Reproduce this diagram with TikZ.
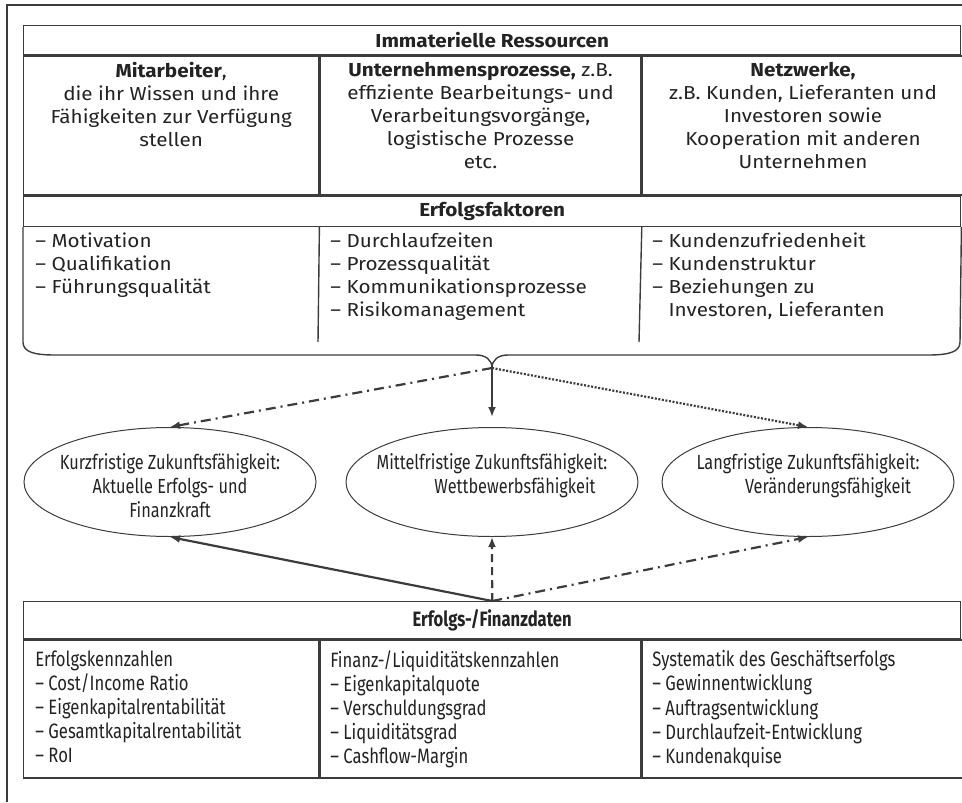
\documentclass[tikz,border=0pt]{standalone}
\usepackage{fontspec}
\setmainfont[FakeStretch=1.1]{Fira Sans}
\newfontfamily\schmal[FakeStretch=0.8]{Fira Sans}
\usepackage{tikz}
\usetikzlibrary{positioning,arrows.meta,shapes.geometric}
\definecolor{rsLine}{RGB}{60,60,60}
\definecolor{rsText}{RGB}{35,35,35}
\tikzset{
    base/.style={font=\fontsize{9.4}{11.5}\selectfont, text=rsText, inner sep=0pt},
    kopf/.style={base, draw=rsLine, line width=0.7pt, minimum width=468.5pt,
                 anchor=north west, font=\fontsize{9.4}{11.5}\selectfont\bfseries},
    zelle/.style={base, draw=rsLine, line width=0.7pt, minimum height=69.5pt, anchor=north west},
    linie/.style={draw=rsLine, line width=0.7pt},
    mitte/.style={base, align=center, anchor=north},
    liste/.style={base, align=left, anchor=north west},
    ziel/.style={ellipse, draw=rsLine, line width=0.5pt, minimum width=146pt, minimum height=54.5pt},
    zieltext/.style={base, font=\schmal\fontsize{10.2}{12}\selectfont, align=center, anchor=north},
    daten/.style={base, font=\schmal\fontsize{10.4}{12.1}\selectfont, align=left, anchor=north west},
    flow/.style={-{Latex[length=5pt,width=4pt]}, line width=1.1pt, color=rsLine}
}
\begin{document}
\begin{tikzpicture}[x=0.5pt,y=-0.5pt]
  \useasboundingbox (0,0) rectangle (962,802);
  % Rahmen
  \draw[linie] (7,802) -- (7,5) -- (962,5);

  % Immaterielle Ressourcen
  \node[kopf, minimum height=14.5pt] (immat) at (23,25) {Immaterielle Ressourcen};
  \node[zelle, minimum width=147.5pt] (mit) at (immat.south west) {};
  \node[zelle, minimum width=160.5pt] (proz) at (mit.north east) {};
  \node[zelle, minimum width=160.5pt] (netz) at (proz.north east) {};

  \node[mitte, below=3pt of mit.north] (mittext) {\textbf{Mitarbeiter},\\
    die ihr Wissen und ihre\\ Fähigkeiten zur Verfügung\\ stellen};
  \node[mitte, below=3pt of proz.north] (proztext) {\textbf{Unternehmensprozesse,} z.B.\\
    effiziente Bearbeitungs- und\\ Verarbeitungsvorgänge,\\ logistische Prozesse\\ etc.};
  \node[mitte, below=3pt of netz.north] (netztext) {\textbf{Netzwerke,}\\
    z.B. Kunden, Lieferanten und\\ Investoren sowie\\ Kooperation mit anderen\\ Unternehmen};

  % Erfolgsfaktoren
  \node[kopf, minimum height=15pt] (erfolg) at (mit.south west) {Erfolgsfaktoren};
  \coordinate (spitze) at (492,368);
  \draw[linie] (erfolg.south west) -- (23,342) .. controls (23,352) and (34,355) .. (55,355)
    -- (476,355) .. controls (486,355) and (492,360) .. (spitze)
    .. controls (492,360) and (498,355) .. (508,355) -- (928,355)
    .. controls (949,355) and (960,352) .. (960,342) -- (erfolg.south east);
  \draw[linie] (mit.south east |- erfolg.south) -- (318,342);
  \draw[linie] (proz.south east |- erfolg.south) -- (639,342);

  \node[liste] (faktor1) at (35,232) {– Motivation\\ – Qualifikation\\ – Führungsqualität};
  \node[liste] (faktor2) at (330,232) {– Durchlaufzeiten\\ – Prozessqualität\\
    – Kommunikationsprozesse\\ – Risikomanagement};
  \node[liste] (faktor3) at (652,232) {– Kundenzufriedenheit\\ – Kundenstruktur\\
    – Beziehungen zu\\ \phantom{– }Investoren, Lieferanten};

  % Zukunftsfaehigkeit
  \node[ziel] (kurz) at (170,482) {};
  \node[ziel] (mittel) at (492,482) {};
  \node[ziel] (lang) at (808,482) {};
  \node[zieltext] (kurztext) at ([yshift=14.5pt]kurz.center) {Kurzfristige Zukunftsfähigkeit:\\
    Aktuelle Erfolgs- und\\ Finanzkraft};
  \node[zieltext] (mitteltext) at ([yshift=14.5pt]mittel.center) {Mittelfristige Zukunftsfähigkeit:\\
    \hspace*{23pt}Wettbewerbsfähigkeit};
  \node[zieltext] (langtext) at ([yshift=14.5pt]lang.center) {Langfristige Zukunftsfähigkeit:\\
    \hspace*{20pt}Veränderungsfähigkeit};

  \draw[flow, dash pattern=on 5pt off 2.5pt on 1pt off 2.5pt] (spitze) -- (kurz.north);
  \draw[flow, shorten >=5pt] (spitze) -- (mittel.north);
  \draw[flow, dash pattern=on 1pt off 0.8pt] (spitze) -- (lang.north);

  % Erfolgs-/Finanzdaten
  \node[kopf, minimum height=18.5pt, font=\schmal\fontsize{10.4}{12}\selectfont\bfseries] (daten) at (23,601) {Erfolgs-/Finanzdaten};
  \node[zelle, minimum width=147.5pt, minimum height=69pt] (kennz) at (daten.south west) {};
  \node[zelle, minimum width=160.5pt, minimum height=69pt] (liqui) at (kennz.north east) {};
  \node[zelle, minimum width=160.5pt, minimum height=69pt] (system) at (liqui.north east) {};

  \node[daten] (kennztext) at (35,650) {Erfolgskennzahlen\\ – Cost/Income Ratio\\
    – Eigenkapitalrentabilität\\ – Gesamtkapitalrentabilität\\ – RoI};
  \node[daten] (liquitext) at (330,650) {Finanz-/Liquiditätskennzahlen\\ – Eigenkapitalquote\\
    – Verschuldungsgrad\\ – Liquiditätsgrad\\ – Cashflow-Margin};
  \node[daten] (systemtext) at (652,650) {Systematik des Geschäftserfolgs\\ – Gewinnentwicklung\\
    – Auftragsentwicklung\\ – Durchlaufzeit-Entwicklung\\ – Kundenakquise};

  \draw[flow] (daten.north) -- (kurz.south);
  \draw[flow, dash pattern=on 4pt off 2.5pt] (daten.north) -- (mittel.south);
  \draw[flow, dash pattern=on 5pt off 2.5pt on 1pt off 2.5pt] (daten.north) -- (lang.south);
\end{tikzpicture}
\end{document}
